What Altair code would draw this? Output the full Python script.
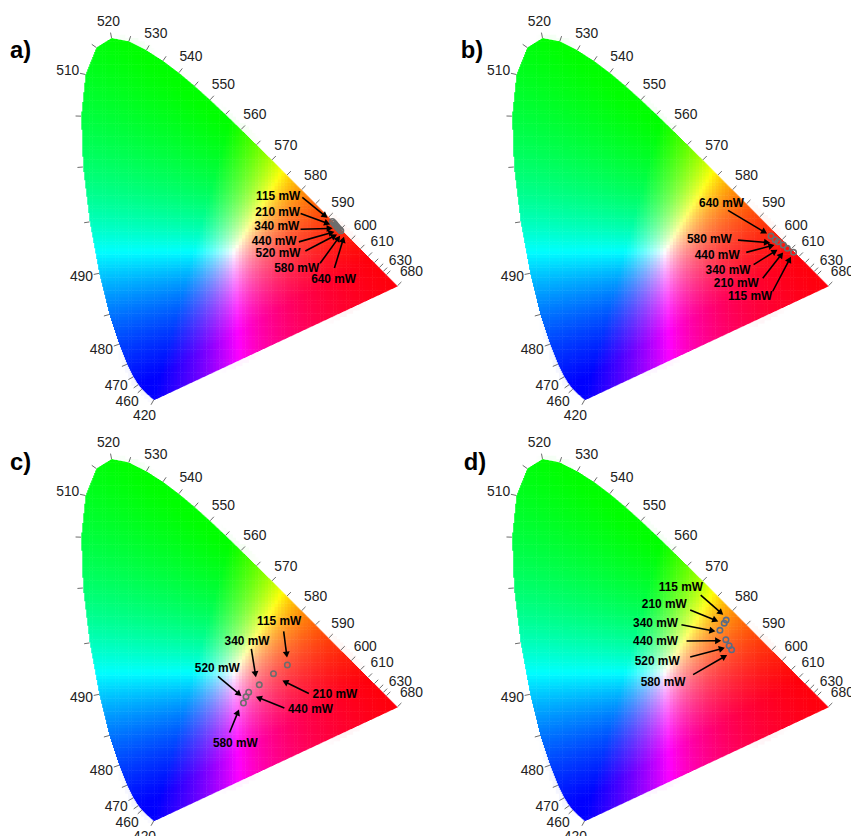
import math
import numpy as np
import pandas as pd
import altair as alt

alt.data_transformers.disable_max_rows()

# ---------------- CIE 1931 2-degree spectral locus (5 nm) ----------------
WL = list(range(380, 705, 5))
LOCUS_X = [0.1741, 0.1740, 0.1738, 0.1736, 0.1733, 0.1730, 0.1726, 0.1721, 0.1714, 0.1703,
           0.1689, 0.1669, 0.1644, 0.1611, 0.1566, 0.1510, 0.1440, 0.1355, 0.1241, 0.1096,
           0.0913, 0.0687, 0.0454, 0.0235, 0.0082, 0.0039, 0.0139, 0.0389, 0.0743, 0.1142,
           0.1547, 0.1929, 0.2296, 0.2658, 0.3016, 0.3373, 0.3731, 0.4087, 0.4441, 0.4788,
           0.5125, 0.5448, 0.5752, 0.6029, 0.6270, 0.6482, 0.6658, 0.6801, 0.6915, 0.7006,
           0.7079, 0.7140, 0.7190, 0.7230, 0.7260, 0.7283, 0.7300, 0.7311, 0.7320, 0.7327,
           0.7334, 0.7340, 0.7344, 0.7346, 0.7347]
LOCUS_Y = [0.0050, 0.0050, 0.0049, 0.0049, 0.0048, 0.0048, 0.0048, 0.0048, 0.0051, 0.0058,
           0.0069, 0.0086, 0.0109, 0.0138, 0.0177, 0.0227, 0.0297, 0.0399, 0.0578, 0.0868,
           0.1327, 0.2007, 0.2950, 0.4127, 0.5384, 0.6548, 0.7502, 0.8120, 0.8338, 0.8262,
           0.8059, 0.7816, 0.7543, 0.7243, 0.6923, 0.6589, 0.6245, 0.5896, 0.5547, 0.5202,
           0.4866, 0.4544, 0.4242, 0.3965, 0.3725, 0.3514, 0.3340, 0.3197, 0.3083, 0.2993,
           0.2920, 0.2859, 0.2809, 0.2770, 0.2740, 0.2717, 0.2700, 0.2689, 0.2680, 0.2673,
           0.2666, 0.2660, 0.2656, 0.2654, 0.2653]

TICK_WL = [420] + list(range(460, 635, 5)) + [680]
LABEL_WL = [420, 460, 470, 480, 490, 510, 520, 530, 540, 550, 560, 570, 580, 590, 600,
            610, 630, 680]

# ---------------- measured chromaticity points ----------------
PA_LABELS = ["115 mW", "210 mW", "340 mW", "440 mW", "520 mW", "580 mW", "640 mW"]
PA_X = [0.5833, 0.5868, 0.5897, 0.5929, 0.5959, 0.5993, 0.6027]
PA_Y = [0.4138, 0.4104, 0.4066, 0.4029, 0.3991, 0.3957, 0.3923]
PA_LAB_X = [0.458, 0.457, 0.455, 0.449, 0.458, 0.501, 0.586]
PA_LAB_Y = [0.471, 0.435, 0.403, 0.369, 0.342, 0.308, 0.281]
PA_TAIL_X = [0.514, 0.510, 0.510, 0.506, 0.521, 0.555, 0.588]
PA_TAIL_Y = [0.469, 0.432, 0.396, 0.367, 0.346, 0.318, 0.307]
PA_HEAD_X = [0.572, 0.578, 0.584, 0.588, 0.594, 0.601, 0.610]
PA_HEAD_Y = [0.422, 0.407, 0.398, 0.390, 0.384, 0.381, 0.379]

PB_LABELS = ["640 mW", "580 mW", "440 mW", "340 mW", "210 mW", "115 mW"]
PB_X = [0.6011, 0.6107, 0.6176, 0.6295, 0.6386, 0.6530]
PB_Y = [0.3803, 0.3719, 0.3673, 0.3598, 0.3522, 0.3431]
PB_LAB_X = [0.487, 0.459, 0.477, 0.502, 0.521, 0.553]
PB_LAB_Y = [0.456, 0.373, 0.337, 0.303, 0.273, 0.243]
PB_TAIL_X = [0.502, 0.525, 0.544, 0.561, 0.582, 0.605]
PB_TAIL_Y = [0.439, 0.371, 0.343, 0.315, 0.284, 0.254]
PB_HEAD_X = [0.592, 0.599, 0.609, 0.616, 0.629, 0.647]
PB_HEAD_Y = [0.386, 0.365, 0.360, 0.349, 0.343, 0.333]

PC_LABELS = ["115 mW", "210 mW", "340 mW", "440 mW", "520 mW", "580 mW"]
PC_X = [0.4795, 0.4475, 0.4148, 0.3904, 0.3842, 0.3783]
PC_Y = [0.3621, 0.3424, 0.3168, 0.3000, 0.2896, 0.2751]
PC_LAB_X = [0.4605, 0.589, 0.3865, 0.5327, 0.3178, 0.3596]
PC_LAB_Y = [0.463, 0.296, 0.4166, 0.2624, 0.356, 0.184]
PC_TAIL_X = [0.471, 0.529, 0.3964, 0.4726, 0.3196, 0.3463]
PC_TAIL_Y = [0.439, 0.297, 0.399, 0.2635, 0.336, 0.2075]
PC_HEAD_X = [0.4787, 0.468, 0.407, 0.407, 0.3737, 0.368]
PC_HEAD_Y = [0.379, 0.3265, 0.334, 0.2896, 0.291, 0.2603]

PD_LABELS = ["115 mW", "210 mW", "340 mW", "440 mW", "520 mW", "580 mW"]
PD_X = [0.4977, 0.4932, 0.4833, 0.4970, 0.5046, 0.5103]
PD_Y = [0.4649, 0.4580, 0.4415, 0.4202, 0.4063, 0.3968]
PD_LAB_X = [0.3934, 0.355, 0.3349, 0.3349, 0.3386, 0.3523]
PD_LAB_Y = [0.5413, 0.5023, 0.4574, 0.4166, 0.3703, 0.3227]
PD_TAIL_X = [0.439, 0.4148, 0.3945, 0.4064, 0.4148, 0.4215]
PD_TAIL_Y = [0.5222, 0.4882, 0.4542, 0.4172, 0.3803, 0.3401]
PD_HEAD_X = [0.4909, 0.4795, 0.473, 0.4863, 0.4947, 0.5]
PD_HEAD_Y = [0.4769, 0.4619, 0.4392, 0.4179, 0.4014, 0.385]

LETTERS = ["a)", "b)", "c)", "d)"]
LETTER_X = [-0.1598, -0.1142, -0.1598, -0.1073]
LETTER_Y = [0.788, 0.788, 0.8095, 0.8095]

# ---------------- geometry / scales ----------------
SX, SY = 438.0, 441.0          # pixels per chromaticity unit
X_LO = -72.0 / SX
Y_HI = 394.0 / SY
WHITE = (0.3333, 0.3333)
CENTER = (0.357, 0.345)        # white centre of the colour field in the picture
D65 = (0.3127, 0.3290)

lx = np.array(LOCUS_X)
ly = np.array(LOCUS_Y)


def srgb_hex(x, y):
    # move the picture's white centre onto D65, then XYZ -> linear RGB, clip, normalise
    x = D65[0] + (x - CENTER[0]) * 0.94
    y = D65[1] + (y - CENTER[1]) * 0.94
    y = np.maximum(y, 0.004)
    X = x / y
    Y = np.ones_like(x)
    Z = (1 - x - y) / y
    M = np.array([[3.2406, -1.5372, -0.4986],
                  [-0.9689, 1.8758, 0.0415],
                  [0.0557, -0.2040, 1.0570]])
    rgb = M @ np.vstack([X, Y, Z])
    rgb = np.clip(rgb, 0, None)
    rgb = rgb / rgb.max(axis=0, keepdims=True)
    g = np.clip(np.round(rgb * 255), 0, 255).astype(int)
    return ["#%02x%02x%02x" % (r, gg, b) for r, gg, b in g.T]


def inside(px, py, vx, vy):
    res = np.zeros(px.shape, bool)
    n = len(vx)
    j = n - 1
    for i in range(n):
        xi, yi, xj, yj = vx[i], vy[i], vx[j], vy[j]
        cond = ((yi > py) != (yj > py)) & (px < (xj - xi) * (py - yi) / (yj - yi + 1e-12) + xi)
        res ^= cond
        j = i
    return res


# background colour cells
STEP = 0.0075
gx = np.arange(0.0, 0.745, STEP)
gy = np.arange(0.0, 0.84, STEP)
GX, GY = np.meshgrid(gx, gy)
GX = GX.ravel()
GY = GY.ravel()
keep = np.zeros(GX.shape, bool)
for ox in (-0.5, 0.5, 1.5):
    for oy in (-0.5, 0.5, 1.5):
        keep |= inside(GX + ox * STEP, GY + oy * STEP, lx, ly)
GX = GX[keep]
GY = GY[keep]
cols = srgb_hex(GX + STEP / 2, GY + STEP / 2)
EPS = 0.0012
cell_df = pd.DataFrame({"a": np.round(GX, 4), "b": np.round(GY, 4), "c": cols})

# white mask outside the spectral locus, as thin vertical strips
i505 = WL.index(505)
up_x, up_y = lx[i505:], ly[i505:]
ll_x, ll_y = lx[:i505 + 1][::-1], ly[:i505 + 1][::-1]
COL = 1.0 / SX
xc = np.arange(lx.min(), lx.max(), COL) + COL / 2
y_up = np.interp(xc, up_x, up_y)
y_lo = np.where(xc < lx[0], np.interp(xc, ll_x, ll_y),
                np.interp(xc, [lx[0], lx[-1]], [ly[0], ly[-1]]))
half = 0.8 * COL
mask_df = pd.concat([
    pd.DataFrame({"x": xc - half, "x2": xc + half, "y": y_up, "y2": 2.0}),
    pd.DataFrame({"x": xc - half, "x2": xc + half, "y": -1.0, "y2": y_lo}),
    pd.DataFrame({"x": [-1.0, lx.max() - 0.2 * COL], "x2": [lx.min() + 0.3 * COL, 2.0],
                  "y": [-1.0, -1.0], "y2": [2.0, 2.0]}),
], ignore_index=True).round(5)

# ticks and labels along the locus
TICK_LEN = 5.5
tick_rows = []
for w in TICK_WL:
    i = WL.index(w)
    px, py = lx[i] * SX, -ly[i] * SY
    ax, ay = lx[i - 1] * SX, -ly[i - 1] * SY
    bx, by = lx[i + 1] * SX, -ly[i + 1] * SY
    tx, ty = bx - ax, by - ay
    L = math.hypot(tx, ty)
    nx, ny = -ty / L, tx / L
    wx, wy = WHITE[0] * SX, -WHITE[1] * SY
    if nx * (px - wx) + ny * (py - wy) < 0:
        nx, ny = -nx, -ny
    ex, ey = px + nx * TICK_LEN, py + ny * TICK_LEN
    d = TICK_LEN + 0.5 + 10.5 * abs(nx) + 9.0 * abs(ny)
    cx, cy = px + nx * d, py + ny * d
    tick_rows.append({"x": lx[i], "y": ly[i], "x2": ex / SX, "y2": -ey / SY,
                      "lx": cx / SX, "ly": -cy / SY,
                      "lab": str(w) if w in LABEL_WL else ""})
tick_df = pd.DataFrame(tick_rows)


def arrow_frames(tail_x, tail_y, head_x, head_y):
    rows = []
    for tx, ty, hx, hy in zip(tail_x, tail_y, head_x, head_y):
        dx, dy = (hx - tx) * SX, -(hy - ty) * SY
        L = math.hypot(dx, dy)
        ux, uy = dx / L, dy / L
        h = 3.1
        cx, cy = hx * SX - ux * h, -hy * SY - uy * h
        lx2, ly2 = hx * SX - ux * 4.5, -hy * SY - uy * 4.5
        ang = math.degrees(math.atan2(ux, -uy)) % 360
        rows.append({"tx": tx, "ty": ty, "ex": lx2 / SX, "ey": -ly2 / SY,
                     "cx": cx / SX, "cy": -cy / SY, "ang": ang})
    return pd.DataFrame(rows)


def panel(k, px_, py_, labels, lab_x, lab_y, tail_x, tail_y, head_x, head_y,
          W, H, marker_color):
    x_hi = X_LO + W / SX
    y_lo_ = Y_HI - H / SY
    xs = alt.Scale(domain=[X_LO, x_hi], nice=False, zero=False)
    ys = alt.Scale(domain=[y_lo_, Y_HI], nice=False, zero=False)

    def X(f):
        return alt.X(f, type="quantitative", scale=xs, axis=None)

    def Y(f):
        return alt.Y(f, type="quantitative", scale=ys, axis=None)

    cells = alt.Chart(cell_df).transform_calculate(
        a2=f"datum.a + {STEP + EPS}", b2=f"datum.b + {STEP + EPS}"
    ).mark_rect(clip=True, strokeWidth=0).encode(
        x=X("a"), x2="a2:Q", y=Y("b"), y2="b2:Q",
        color=alt.Color("c:N", scale=None))

    mask = alt.Chart(mask_df).mark_rect(clip=True, color="white", strokeWidth=0,
                                        opacity=1).encode(
        x=X("x"), x2="x2:Q", y=Y("y"), y2="y2:Q")

    ticks = alt.Chart(tick_df).mark_rule(clip=True, color="#6a6a6a", strokeWidth=1).encode(
        x=X("x"), y=Y("y"), x2="x2:Q", y2="y2:Q")
    tlabs = alt.Chart(tick_df).mark_text(
        clip=True, font="Liberation Sans Narrow, Liberation Sans, Arial", fontSize=14,
        color="#222222", align="center", baseline="middle").encode(
        x=X("lx"), y=Y("ly"), text="lab:N")

    pts_df = pd.DataFrame({"x": px_, "y": py_, "p": labels})
    pts = alt.Chart(pts_df).mark_point(clip=True, filled=False, shape="circle", size=30,
                                       strokeWidth=1.6, color=marker_color,
                                       opacity=1).encode(x=X("x"), y=Y("y"))

    arr_df = arrow_frames(tail_x, tail_y, head_x, head_y)
    shafts = alt.Chart(arr_df).mark_rule(clip=True, color="black", strokeWidth=1.6).encode(
        x=X("tx"), y=Y("ty"), x2="ex:Q", y2="ey:Q")
    heads = alt.Chart(arr_df).mark_point(clip=True, shape="triangle-up", filled=True,
                                         size=50, color="black", opacity=1).encode(
        x=X("cx"), y=Y("cy"), angle=alt.Angle("ang:Q", scale=None))

    lab_df = pd.DataFrame({"x": lab_x, "y": lab_y, "t": labels})
    labs = alt.Chart(lab_df).mark_text(clip=True, font="Liberation Sans", fontSize=12,
                                       fontWeight="bold", color="black", align="center",
                                       baseline="middle").encode(
        x=X("x"), y=Y("y"), text="t:N")

    let_df = pd.DataFrame({"x": [LETTER_X[k]], "y": [LETTER_Y[k]], "t": [LETTERS[k]]})
    let = alt.Chart(let_df).mark_text(clip=True, font="Liberation Sans", fontSize=24,
                                      fontWeight="bold", color="black", align="left",
                                      baseline="alphabetic").encode(
        x=X("x"), y=Y("y"), text="t:N")

    return alt.layer(cells, mask, ticks, tlabs, pts, shafts, heads, labs, let
                     ).properties(width=W, height=H)


pa = panel(0, PA_X, PA_Y, PA_LABELS, PA_LAB_X, PA_LAB_Y, PA_TAIL_X, PA_TAIL_Y,
           PA_HEAD_X, PA_HEAD_Y, 435, 425, "#6d6d6d")
pb = panel(1, PB_X, PB_Y, PB_LABELS, PB_LAB_X, PB_LAB_Y, PB_TAIL_X, PB_TAIL_Y,
           PB_HEAD_X, PB_HEAD_Y, 416, 425, "#6d6d6d")
pc = panel(2, PC_X, PC_Y, PC_LABELS, PC_LAB_X, PC_LAB_Y, PC_TAIL_X, PC_TAIL_Y,
           PC_HEAD_X, PC_HEAD_Y, 435, 407, "#6d6d6d")
pd_ = panel(3, PD_X, PD_Y, PD_LABELS, PD_LAB_X, PD_LAB_Y, PD_TAIL_X, PD_TAIL_Y,
            PD_HEAD_X, PD_HEAD_Y, 416, 407, "#5a6c85")

chart = alt.vconcat(
    alt.hconcat(pa, pb, spacing=0),
    alt.hconcat(pc, pd_, spacing=0),
    spacing=0,
).properties(padding=0).configure_view(stroke=None).configure_concat(spacing=0)

chart.save("out.html", embed_options={"renderer": "svg", "actions": False})
